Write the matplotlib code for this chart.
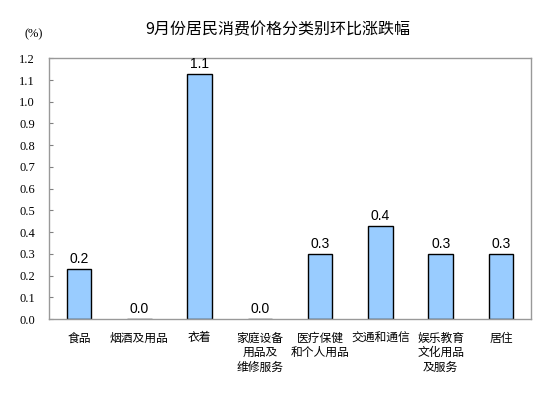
import matplotlib
matplotlib.use("Agg")
import matplotlib.pyplot as plt

plt.rcParams['font.family'] = ['Noto Sans CJK SC', 'DejaVu Sans']

categories = ["食品", "烟酒及用品", "衣着", "家庭设备\n用品及\n维修服务",
              "医疗保健\n和个人用品", "交通和通信", "娱乐教育\n文化用品\n及服务", "居住"]
values = [0.23, 0.0, 1.13, 0.0, 0.30, 0.43, 0.30, 0.30]
labels = ["0.2", "0.0", "1.1", "0.0", "0.3", "0.4", "0.3", "0.3"]
yticks = [0.0, 0.1, 0.2, 0.3, 0.4, 0.5, 0.6, 0.7, 0.8, 0.9, 1.0, 1.1, 1.2]

W, H = 554, 398
fig = plt.figure(figsize=(W / 100, H / 100), dpi=100)
ax = fig.add_axes([49 / W, (H - 319) / H, 482 / W, (319 - 58.3) / H])

x = range(len(categories))
bars = ax.bar(x, values, width=0.41, color="#99CCFF", edgecolor="black", linewidth=1.0)

for b, v, t in zip(bars, values, labels):
    ax.annotate(t, (b.get_x() + b.get_width() / 2, v), xytext=(0, 2),
                textcoords="offset points", ha="center", va="bottom",
                fontsize=10, family="Liberation Sans")

ax.set_xlim(-0.5, len(categories) - 0.5)
ax.set_ylim(0, 1.2)
ax.set_yticks(yticks)
ax.set_yticklabels([f"{t:.1f}" for t in yticks], family="Liberation Serif", fontsize=9)
ax.tick_params(axis="y", direction="in", length=3, width=0.8, color="#808080", pad=10)
ax.set_xticks(list(x))
ax.set_xticklabels(categories, fontsize=8.5, linespacing=1.15, va="top")
ax.tick_params(axis="x", length=0, pad=9)

for s in ax.spines.values():
    s.set_color("#999999")
    s.set_linewidth(1.0)

fig.text(278 / W, 1 - 30 / H, "9月份居民消费价格分类别环比涨跌幅", ha="center", va="center", fontsize=11.5)
fig.text(34 / W, 1 - 34 / H, "(%)", ha="center", va="center", family="Liberation Serif", fontsize=9)

fig.savefig("out.png", dpi=100)
